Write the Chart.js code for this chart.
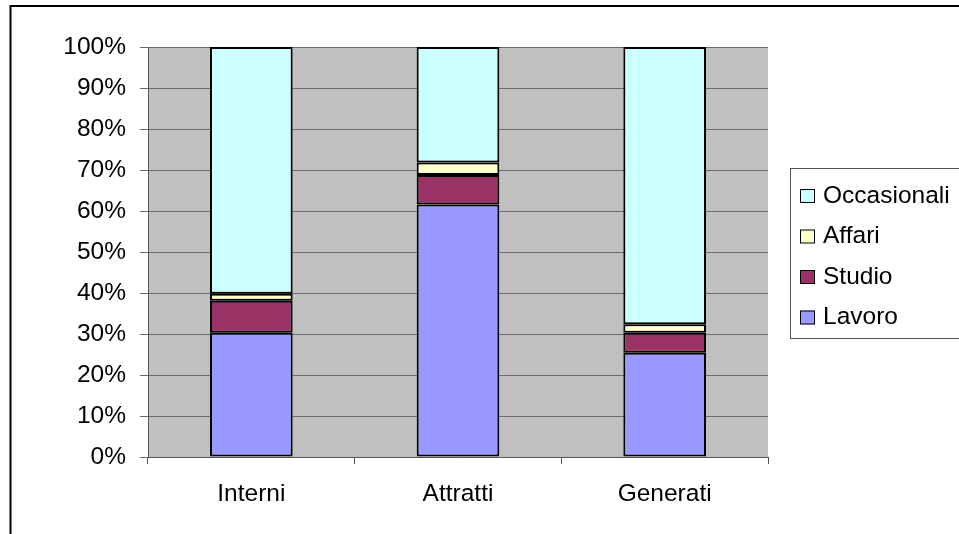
<!DOCTYPE html>
<html>
<head>
<meta charset="utf-8">
<script src="https://cdn.jsdelivr.net/npm/chart.js@4/dist/chart.umd.min.js"></script>
<style>
  html, body { margin: 0; padding: 0; background: #fff; }
  #wrap { width: 959px; height: 534px; }
</style>
</head>
<body>
<div id="wrap"><canvas id="myChart" width="959" height="534"></canvas></div>
<script>
var categories = ["Interni", "Attratti", "Generati"];
var lavoro = [30.3, 61.6, 25.4];
var studio = [7.8, 7.2, 4.9];
var affari = [1.7, 3.0, 2.1];
var occasionali = [60.2, 28.2, 67.6];
var yTicks = [0, 10, 20, 30, 40, 50, 60, 70, 80, 90, 100];

var font = { family: "'Liberation Sans', Arial, sans-serif", size: 24.5 };

var frame = {
  id: 'frame',
  beforeDraw: function (chart) {
    var c = chart.ctx, a = chart.chartArea;
    c.save();
    c.fillStyle = '#fff';
    c.fillRect(0, 0, chart.width, chart.height);
    c.fillStyle = '#C0C0C0';
    c.fillRect(a.left, a.top, a.right - a.left, a.bottom - a.top);
    c.restore();
  },
  afterDraw: function (chart) {
    var c = chart.ctx;
    c.save();
    // outer border
    c.strokeStyle = '#000';
    c.lineWidth = 2;
    c.beginPath();
    c.moveTo(10.5, chart.height);
    c.lineTo(10.5, 6);
    c.lineTo(chart.width, 6);
    c.stroke();
    // legend
    c.lineWidth = 1;
    c.strokeStyle = '#555';
    c.strokeRect(790.5, 168.5, 200, 170);
    c.font = font.size + 'px ' + font.family;
    c.textBaseline = 'middle';
    var ds = chart.data.datasets.slice().reverse();
    ds.forEach(function (d, i) {
      var y = 196 + i * 40.5;
      c.fillStyle = d.backgroundColor;
      c.fillRect(800, y - 7, 15, 14);
      c.strokeStyle = '#000';
      c.strokeRect(800.5, y - 6.5, 14, 13);
      c.fillStyle = '#000';
      c.fillText(d.label, 823, y);
    });
    c.restore();
  }
};

function bar(label, values, color) {
  return {
    label: label,
    data: values,
    backgroundColor: color,
    borderColor: '#000',
    borderWidth: 2,
    borderSkipped: false,
    categoryPercentage: 1,
    barPercentage: 0.4
  };
}

var ctx = document.getElementById('myChart');
var myChart = new Chart(ctx, {
  type: 'bar',
  data: {
    labels: categories,
    datasets: [
      bar('Lavoro', lavoro, '#9999FF'),
      bar('Studio', studio, '#993366'),
      bar('Affari', affari, '#FFFFCC'),
      bar('Occasionali', occasionali, '#CCFFFF')
    ]
  },
  options: {
    responsive: false,
    animation: false,
    layout: { padding: { left: 0, top: 47, right: 191, bottom: 0 } },
    plugins: { legend: { display: false }, tooltip: { enabled: false } },
    scales: {
      x: {
        stacked: true,
        afterFit: function (s) { s.height = 77; },
        grid: { offset: true, drawOnChartArea: false, color: '#555', tickLength: 7 },
        border: { color: '#555' },
        ticks: { color: '#000', font: font, padding: 16 }
      },
      y: {
        stacked: true,
        min: 0,
        max: 100,
        afterFit: function (s) { s.width = 148; },
        afterBuildTicks: function (s) { s.ticks = yTicks.map(function (v) { return { value: v }; }); },
        grid: { color: '#6a6a6a', tickLength: 8 },
        border: { color: '#555' },
        ticks: { color: '#000', font: font, padding: 14, callback: function (v) { return v + '%'; } }
      }
    }
  },
  plugins: [frame]
});
</script>
</body>
</html>
